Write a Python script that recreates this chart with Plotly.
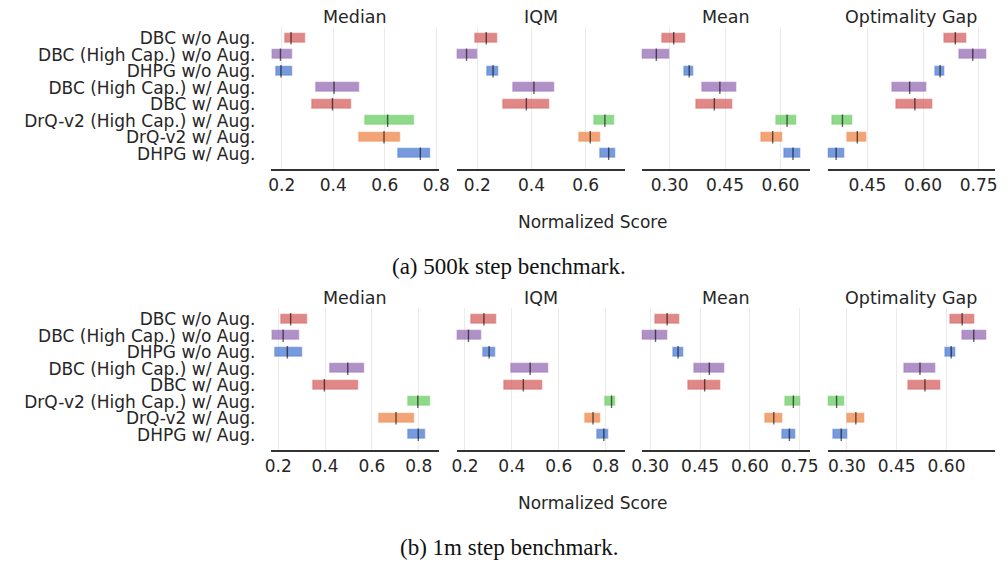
import plotly.graph_objects as go

algorithms = ["DBC w/o Aug.", "DBC (High Cap.) w/o Aug.", "DHPG w/o Aug.",
              "DBC (High Cap.) w/ Aug.", "DBC w/ Aug.", "DrQ-v2 (High Cap.) w/ Aug.",
              "DrQ-v2 w/ Aug.", "DHPG w/ Aug."]
metrics = ["Median", "IQM", "Mean", "Optimality Gap"]
colors = ["#d65f5f", "#956cb4", "#4878d0", "#956cb4", "#d65f5f", "#6acc64", "#ee854a", "#4878d0"]

# 500k step benchmark: (low, point, high) per metric
a_median_lo = [0.213, 0.163, 0.180, 0.335, 0.321, 0.524, 0.501, 0.652]
a_median_pt = [0.236, 0.195, 0.197, 0.403, 0.397, 0.611, 0.597, 0.738]
a_median_hi = [0.291, 0.243, 0.241, 0.501, 0.472, 0.714, 0.662, 0.777]
a_iqm_lo = [0.192, 0.126, 0.236, 0.333, 0.296, 0.634, 0.579, 0.653]
a_iqm_pt = [0.233, 0.160, 0.258, 0.409, 0.381, 0.671, 0.617, 0.685]
a_iqm_hi = [0.274, 0.200, 0.278, 0.486, 0.466, 0.705, 0.654, 0.711]
a_mean_lo = [0.280, 0.227, 0.340, 0.389, 0.373, 0.589, 0.550, 0.611]
a_mean_pt = [0.311, 0.264, 0.353, 0.436, 0.421, 0.618, 0.579, 0.634]
a_mean_hi = [0.342, 0.300, 0.366, 0.482, 0.471, 0.645, 0.605, 0.655]
a_og_lo = [0.658, 0.699, 0.633, 0.518, 0.529, 0.356, 0.396, 0.346]
a_og_pt = [0.687, 0.734, 0.646, 0.564, 0.578, 0.383, 0.423, 0.366]
a_og_hi = [0.718, 0.770, 0.659, 0.610, 0.626, 0.410, 0.449, 0.390]

# 1m step benchmark
b_median_lo = [0.214, 0.175, 0.188, 0.422, 0.350, 0.757, 0.631, 0.754]
b_median_pt = [0.253, 0.221, 0.239, 0.497, 0.397, 0.796, 0.703, 0.798]
b_median_hi = [0.325, 0.290, 0.304, 0.566, 0.541, 0.848, 0.783, 0.829]
b_iqm_lo = [0.228, 0.168, 0.278, 0.397, 0.367, 0.799, 0.713, 0.765]
b_iqm_pt = [0.281, 0.215, 0.303, 0.478, 0.449, 0.825, 0.746, 0.792]
b_iqm_hi = [0.335, 0.269, 0.331, 0.558, 0.532, 0.842, 0.778, 0.814]
b_mean_lo = [0.316, 0.278, 0.369, 0.433, 0.416, 0.707, 0.646, 0.698]
b_mean_pt = [0.351, 0.316, 0.384, 0.478, 0.464, 0.731, 0.672, 0.719]
b_mean_hi = [0.387, 0.353, 0.401, 0.525, 0.511, 0.754, 0.699, 0.739]
b_og_lo = [0.613, 0.647, 0.598, 0.475, 0.487, 0.245, 0.301, 0.260]
b_og_pt = [0.647, 0.682, 0.614, 0.520, 0.535, 0.269, 0.327, 0.283]
b_og_hi = [0.684, 0.722, 0.628, 0.567, 0.583, 0.292, 0.353, 0.302]

a_ticks = [[0.2, 0.4, 0.6, 0.8], [0.2, 0.4, 0.6], [0.30, 0.45, 0.60], [0.45, 0.60, 0.75]]
b_ticks = [[0.2, 0.4, 0.6, 0.8], [0.2, 0.4, 0.6, 0.8], [0.30, 0.45, 0.60, 0.75], [0.30, 0.45, 0.60]]
a_ranges = [[0.160, 0.810], [0.123, 0.745], [0.224, 0.680], [0.343, 0.794]]
b_ranges = [[0.171, 0.886], [0.164, 0.882], [0.274, 0.781], [0.242, 0.746]]

caption_a = "(a) 500k step benchmark."
caption_b = "(b) 1m step benchmark."
xlabel = "Normalized Score"

W, H = 1008, 563
FONT = "DejaVu Sans"
TXT = "#262626"

def rgba(h, a):
    h = h.lstrip("#")
    r, g, b = int(h[0:2], 16), int(h[2:4], 16), int(h[4:6], 16)
    return f"rgba({r},{g},{b},{a})"

fig = go.Figure()

x_px = [(267, 438), (456, 628), (645, 817), (835, 1006)]
panels = [
    dict(data=[(a_median_lo, a_median_pt, a_median_hi), (a_iqm_lo, a_iqm_pt, a_iqm_hi),
               (a_mean_lo, a_mean_pt, a_mean_hi), (a_og_lo, a_og_pt, a_og_hi)],
         ticks=a_ticks, ranges=a_ranges, top=27, bottom=169, caption=caption_a,
         title_y=17, xlabel_y=222, caption_y=266),
    dict(data=[(b_median_lo, b_median_pt, b_median_hi), (b_iqm_lo, b_iqm_pt, b_iqm_hi),
               (b_mean_lo, b_mean_pt, b_mean_hi), (b_og_lo, b_og_pt, b_og_hi)],
         ticks=b_ticks, ranges=b_ranges, top=308, bottom=450, caption=caption_b,
         title_y=298, xlabel_y=503, caption_y=547),
]

rows = list(range(len(algorithms)))
ax = 0
layout = {}
annotations = []
for p in panels:
    for j in range(4):
        ax += 1
        xa = "x" if ax == 1 else f"x{ax}"
        ya = "y" if ax == 1 else f"y{ax}"
        lo, pt, hi = p["data"][j]
        fig.add_trace(go.Bar(
            y=rows, base=lo, x=[h - l for l, h in zip(lo, hi)], orientation="h",
            width=0.55,
            marker=dict(color=[rgba(c, 0.75) for c in colors],
                        line=dict(color=[rgba(c, 0.35) for c in colors], width=1.5)),
            xaxis=xa, yaxis=ya, showlegend=False, hoverinfo="skip"))
        fig.add_trace(go.Scatter(
            y=rows, x=pt, mode="markers",
            marker=dict(symbol="line-ns", size=9, line=dict(color="rgba(0,0,0,0.6)", width=1.4)),
            xaxis=xa, yaxis=ya, showlegend=False, hoverinfo="skip"))
        x0, x1 = x_px[j]
        layout["xaxis" if ax == 1 else f"xaxis{ax}"] = dict(
            domain=[x0 / W, x1 / W], anchor=ya, range=p["ranges"][j],
            tickvals=p["ticks"][j], ticktext=[f"{t:.1f}" if j < 2 else f"{t:.2f}" for t in p["ticks"][j]],
            showgrid=True, gridcolor="#ebebeb", gridwidth=1,
            showline=True, linecolor="#333333", linewidth=1.8, ticks="",
            tickfont=dict(family=FONT, size=17, color=TXT), zeroline=False)
        layout["yaxis" if ax == 1 else f"yaxis{ax}"] = dict(
            domain=[1 - p["bottom"] / H, 1 - p["top"] / H], anchor=xa,
            range=[7.92, -0.685], showgrid=False, zeroline=False, showline=False,
            tickvals=rows if j == 0 else [], ticktext=algorithms if j == 0 else [],
            ticks="", ticklabelstandoff=15,
            tickfont=dict(family=FONT, size=17, color=TXT))
        annotations.append(dict(text=metrics[j], x=(x0 + x1) / 2 / W, y=1 - p["title_y"] / H,
                                xref="paper", yref="paper", showarrow=False,
                                xanchor="center", yanchor="middle",
                                font=dict(family=FONT, size=17.5, color=TXT)))
    annotations.append(dict(text=xlabel, x=595 / W, y=1 - p["xlabel_y"] / H,
                            xref="paper", yref="paper", showarrow=False,
                            xanchor="center", yanchor="middle",
                            font=dict(family=FONT, size=17, color=TXT)))
    annotations.append(dict(text=p["caption"], x=510 / W, y=1 - p["caption_y"] / H,
                            xref="paper", yref="paper", showarrow=False,
                            xanchor="center", yanchor="middle",
                            font=dict(family="Liberation Serif", size=23, color="#111111")))

fig.update_layout(width=W, height=H, margin=dict(l=0, r=0, t=0, b=0),
                  paper_bgcolor="white", plot_bgcolor="white",
                  annotations=annotations, bargap=0, **layout)

fig.write_html("out.html")
